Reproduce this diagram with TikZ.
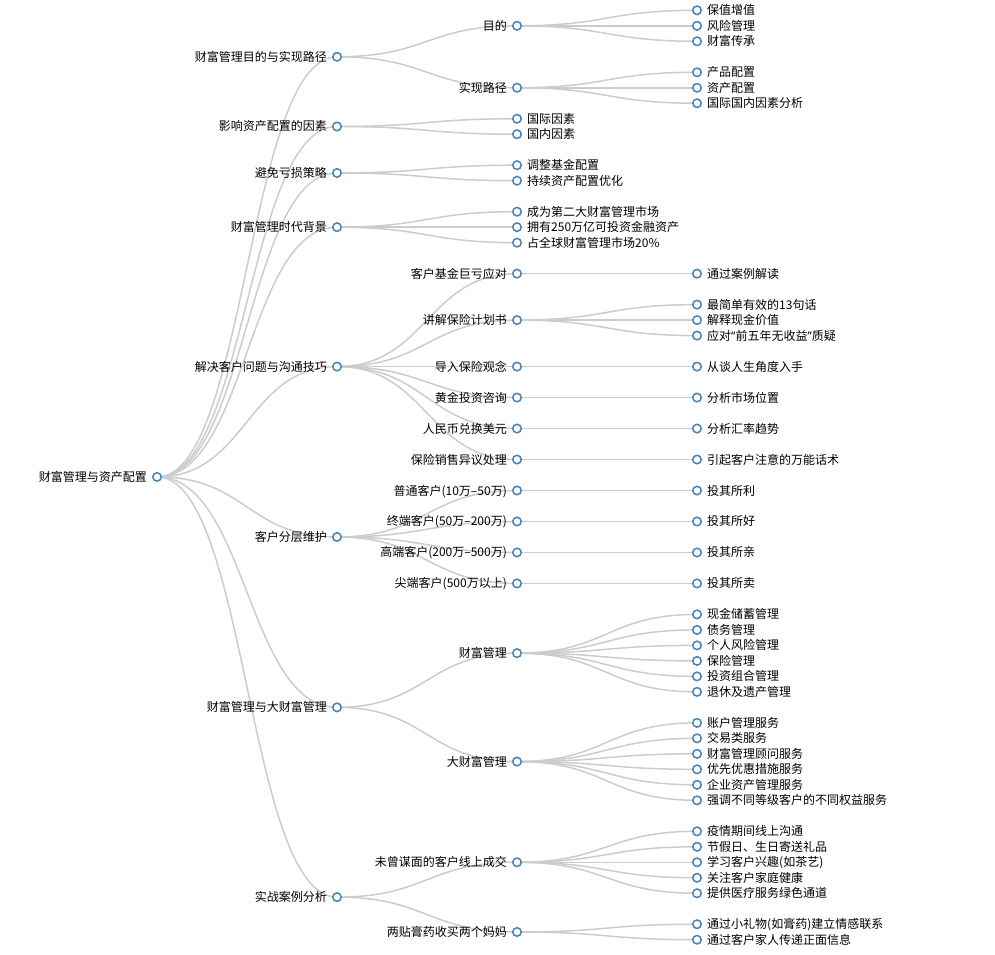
\documentclass[tikz,border=0pt]{standalone}
\usepackage{fontspec}
\setmainfont{Noto Sans CJK SC}
\newfontfamily\quotefont{Noto Sans}
\usepackage{xcolor}
\usepackage{tikz}
\usetikzlibrary{backgrounds}

\definecolor{dotblue}{HTML}{4682B4}
\definecolor{linkgray}{HTML}{CCCCCC}

\tikzset{
	dot/.style={circle,draw=dotblue,fill=white,line width=1.5pt,inner sep=0pt,minimum size=8.5pt},
	branch/.style={dot,label=left:{#1}},
	leaf/.style={dot,label=right:{#1}},
	link/.style={draw=linkgray,line width=1.5pt},
	every label/.style={inner sep=0pt,font=\fontsize{12}{14}\selectfont,text height=10.5pt,text depth=1.5pt},
	label distance=5pt,
}

\begin{document}
\begin{tikzpicture}[x=1pt,y=-15.49pt,yshift=-10.3pt]
	\useasboundingbox (0,-0.665) rectangle (995,60.925);

	% root
	\node[branch=财富管理与资产配置] (r) at (157,30.125) {};

	% first level
	\foreach \n/\k/\t in {a/3/财富管理目的与实现路径, b/7.5/影响资产配置的因素, c/10.5/避免亏损策略, d/14/财富管理时代背景, e/23/解决客户问题与沟通技巧, f/34/客户分层维护, g/45/财富管理与大财富管理, h/57.25/实战案例分析}{
		\node[branch=\t] (\n) at (337,\k) {};
	}

	% second level
	\foreach \n/\k/\t in {a1/1/目的, a2/5/实现路径, e1/17/客户基金巨亏应对, e2/20/讲解保险计划书, e3/23/导入保险观念, e4/25/黄金投资咨询, e5/27/人民币兑换美元, e6/29/保险销售异议处理, f1/31/普通客户(10万–50万), f2/33/终端客户(50万–200万), f3/35/高端客户(200万–500万), f4/37/尖端客户(500万以上), g1/41.5/财富管理, g2/48.5/大财富管理, h1/55/未曾谋面的客户线上成交, h2/59.5/两贴膏药收买两个妈妈}{
		\node[branch=\t] (\n) at (517,\k) {};
	}
	\foreach \t [count=\i] in {国际因素,国内因素}
		\node[leaf=\t] (b\i) at (517,{\i+6}) {};
	\foreach \t [count=\i] in {调整基金配置,持续资产配置优化}
		\node[leaf=\t] (c\i) at (517,{\i+9}) {};
	\foreach \t [count=\i] in {成为第二大财富管理市场,拥有250万亿可投资金融资产,占全球财富管理市场20\%}
		\node[leaf=\t] (d\i) at (517,{\i+12}) {};

	% third level
	\foreach \t [count=\i] in {保值增值,风险管理,财富传承}
		\node[leaf=\t] (a1\i) at (697,{\i-1}) {};
	\foreach \t [count=\i] in {产品配置,资产配置,国际国内因素分析}
		\node[leaf=\t] (a2\i) at (697,{\i+3}) {};
	\foreach \t [count=\i] in {最简单有效的13句话,解释现金价值,{应对{\quotefont “}前五年无收益{\quotefont ”}质疑}}
		\node[leaf=\t] (e2\i) at (697,{\i+18}) {};
	\foreach \n/\k/\t in {e1/17/通过案例解读, e3/23/从谈人生角度入手, e4/25/分析市场位置, e5/27/分析汇率趋势, e6/29/引起客户注意的万能话术, f1/31/投其所利, f2/33/投其所好, f3/35/投其所亲, f4/37/投其所卖}
		\node[leaf=\t] (\n1) at (697,\k) {};
	\foreach \t [count=\i] in {现金储蓄管理,债务管理,个人风险管理,保险管理,投资组合管理,退休及遗产管理}
		\node[leaf=\t] (g1\i) at (697,{\i+38}) {};
	\foreach \t [count=\i] in {账户管理服务,交易类服务,财富管理顾问服务,优先优惠措施服务,企业资产管理服务,强调不同等级客户的不同权益服务}
		\node[leaf=\t] (g2\i) at (697,{\i+45}) {};
	\foreach \t [count=\i] in {疫情期间线上沟通,节假日、生日寄送礼品,学习客户兴趣(如茶艺),关注客户家庭健康,提供医疗服务绿色通道}
		\node[leaf=\t] (h1\i) at (697,{\i+52}) {};
	\foreach \t [count=\i] in {通过小礼物(如膏药)建立情感联系,通过客户家人传递正面信息}
		\node[leaf=\t] (h2\i) at (697,{\i+58}) {};

	% links
	\begin{scope}[on background layer]
		\foreach \c in {a,b,c,d,e,f,g,h}
			\draw[link] (r.center) .. controls +(90,0) and +(-90,0) .. (\c.center);
		\foreach \p/\n in {a/2,b/2,c/2,d/3,e/6,f/4,g/2,h/2,a1/3,a2/3,e1/1,e2/3,e3/1,e4/1,e5/1,e6/1,f1/1,f2/1,f3/1,f4/1,g1/6,g2/6,h1/5,h2/2}
			\foreach \i in {1,...,\n}
				\draw[link] (\p.center) .. controls +(90,0) and +(-90,0) .. (\p\i.center);
	\end{scope}
\end{tikzpicture}
\end{document}
